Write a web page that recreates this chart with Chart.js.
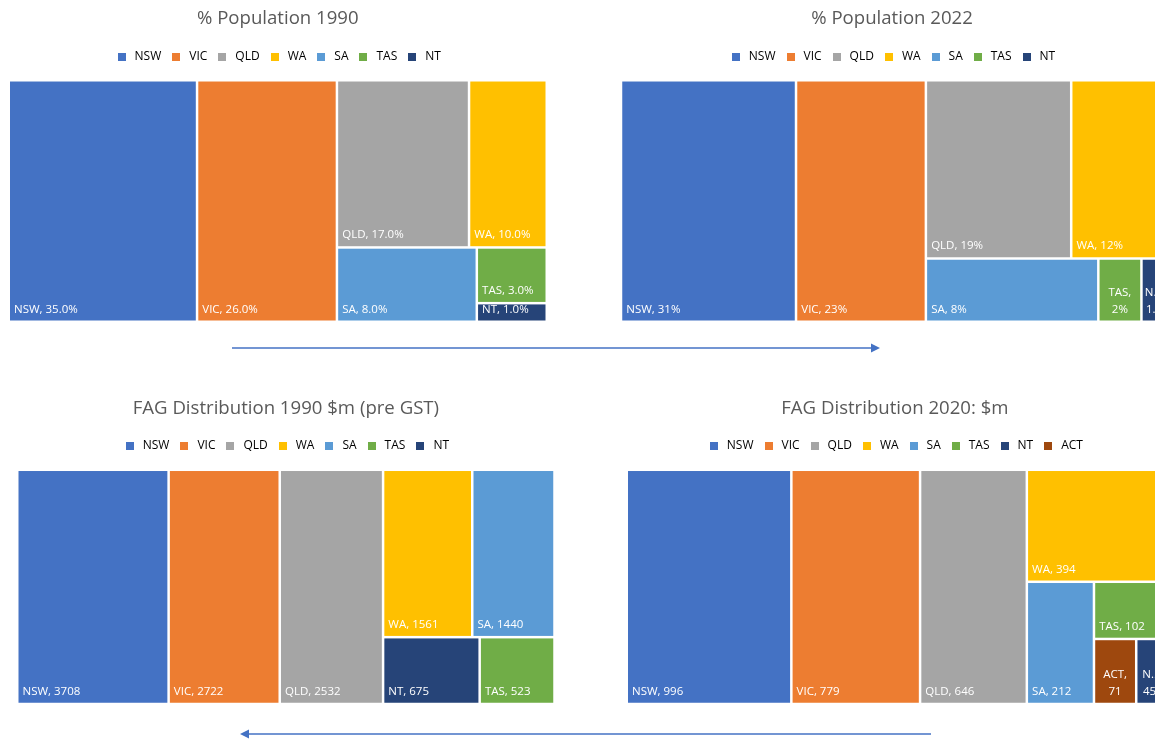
<!DOCTYPE html>
<html>
<head>
<meta charset="utf-8">
<script src="https://cdn.jsdelivr.net/npm/chart.js@4.4.1/dist/chart.umd.min.js"></script>
<style>
  html, body { margin: 0; padding: 0; background: #fff; overflow: hidden; }
  body { width: 1155px; height: 740px; position: relative; }
  .box { position: absolute; }
  #arrows { position: absolute; left: 0; top: 0; }
</style>
</head>
<body>
<div class="box" style="left:0;top:0"><canvas id="pop1990" width="556" height="323"></canvas></div>
<div class="box" style="left:600px;top:0"><canvas id="pop2022" width="580" height="323"></canvas></div>
<div class="box" style="left:0;top:389px"><canvas id="fag1990" width="572" height="317"></canvas></div>
<div class="box" style="left:600px;top:389px"><canvas id="fag2020" width="580" height="317"></canvas></div>
<svg id="arrows" width="1155" height="740">
  <line x1="232" y1="348" x2="872" y2="348" stroke="#4472C4" stroke-width="1.6"/>
  <polygon points="871,343.5 880,348 871,352.5" fill="#4472C4"/>
  <line x1="931" y1="734" x2="248" y2="734" stroke="#4472C4" stroke-width="1.6"/>
  <polygon points="249,729.5 240,734 249,738.5" fill="#4472C4"/>
</svg>
<script>
const states = ['NSW', 'VIC', 'QLD', 'WA', 'SA', 'TAS', 'NT'];
const statesWithAct = ['NSW', 'VIC', 'QLD', 'WA', 'SA', 'TAS', 'NT', 'ACT'];
const stateColors = ['#4472C4', '#ED7D31', '#A5A5A5', '#FFC000', '#5B9BD5', '#70AD47', '#264478', '#9E480E'];

// population share (%)
const pop1990 = [35.0, 26.0, 17.0, 10.0, 8.0, 3.0, 1.0];
const pop2022 = [31, 23, 19, 12, 8, 2, 1];
// financial assistance grants ($m)
const fag1990 = [3708, 2722, 2532, 1561, 1440, 523, 675];
const fag2020 = [996, 779, 646, 394, 212, 102, 45, 71];

Chart.defaults.font.family = '"Open Sans", sans-serif';
Chart.defaults.color = '#595959';

// strips are grown while the worst |1 - w/h| of the strip does not get worse
function stripScore(row, sum, side, horiz) {
  const t = sum / side;
  let worst = 0;
  row.forEach(it => {
    const len = it.area / t;
    const r = horiz ? len / t : t / len;
    worst = Math.max(worst, Math.abs(1 - r));
  });
  return worst;
}

function squarify(items, x, y, w, h) {
  const out = [];
  let rest = items.slice();
  while (rest.length) {
    const horiz = w < h;
    const side = horiz ? w : h;
    let row = [rest[0]];
    let sum = rest[0].area;
    let best = stripScore(row, sum, side, horiz);
    for (let k = 1; k < rest.length; k++) {
      const cand = row.concat(rest[k]);
      const s = sum + rest[k].area;
      const sc = stripScore(cand, s, side, horiz);
      if (sc > best) break;
      row = cand; sum = s; best = sc;
    }
    const t = sum / side;
    let off = 0;
    row.forEach(it => {
      const len = it.area / t;
      out.push(horiz ? { i: it.i, x: x + off, y: y, w: len, h: t }
                     : { i: it.i, x: x, y: y + off, w: t, h: len });
      off += len;
    });
    if (horiz) { y += t; h -= t; } else { x += t; w -= t; }
    rest = rest.slice(row.length);
  }
  return out;
}

function fitText(ctx, s, maxW) {
  if (ctx.measureText(s).width <= maxW) return s;
  let n = s.length - 1;
  while (n > 1 && ctx.measureText(s.slice(0, n) + '..').width > maxW) n--;
  return s.slice(0, n) + '..';
}

const treemapPlugin = {
  id: 'treemap',
  afterDatasetsDraw(chart, args, opts) {
    const { ctx, chartArea } = chart;
    const xs = chart.scales.x, ys = chart.scales.y;
    const labels = chart.data.labels;
    const ds = chart.data.datasets[0];
    const W = chartArea.width, H = chartArea.height;
    const total = ds.data.reduce((a, b) => a + b, 0);
    const items = ds.data.map((v, i) => ({ i, v, area: v / total * W * H }))
      .sort((a, b) => b.v - a.v);
    const cells = squarify(items, 0, 0, W, H);
    const g = opts.gap;
    ctx.save();
    cells.forEach(c => {
      const l = xs.getPixelForValue(c.x / W) + g;
      const r = xs.getPixelForValue((c.x + c.w) / W) - g;
      const t = ys.getPixelForValue(c.y / H) + g;
      const b = ys.getPixelForValue((c.y + c.h) / H) - g;
      ctx.fillStyle = ds.backgroundColor[c.i];
      ctx.fillRect(l, t, r - l, b - t);

      ctx.save();
      ctx.beginPath();
      ctx.rect(l, t, r - l, b - t);
      ctx.clip();
      ctx.fillStyle = '#fff';
      ctx.font = opts.font;
      ctx.textBaseline = 'alphabetic';
      const name = labels[c.i];
      const val = opts.format(ds.data[c.i]);
      const text = name + ', ' + val;
      if (ctx.measureText(text).width <= r - l - 8) {
        ctx.textAlign = 'left';
        ctx.fillText(text, l + 4, b - 8);
      } else {
        // narrow cell: name and value on two centred lines
        const lines = [name + ',', val].map(s => fitText(ctx, s, r - l - 8));
        ctx.textAlign = 'center';
        lines.forEach((s, k) => {
          ctx.fillText(s, (l + r) / 2, b - 8 - (lines.length - 1 - k) * 16.5);
        });
      }
      ctx.restore();
    });
    ctx.restore();
  }
};

function marker(color) {
  const c = document.createElement('canvas');
  c.width = 8; c.height = 8;
  const cx = c.getContext('2d');
  cx.fillStyle = color;
  cx.fillRect(0, 0, 8, 8);
  return c;
}

function makeTreemap(id, title, labels, values, format, pad) {
  const colors = stateColors.slice(0, labels.length);
  return new Chart(document.getElementById(id), {
    type: 'scatter',
    data: {
      labels: labels,
      datasets: [{ data: values, backgroundColor: colors, pointRadius: 0, showLine: false }]
    },
    options: {
      responsive: false,
      animation: false,
      events: [],
      devicePixelRatio: 1,
      layout: { padding: pad },
      scales: {
        x: { type: 'linear', min: 0, max: 1, display: false },
        y: { type: 'linear', min: 0, max: 1, reverse: true, display: false }
      },
      plugins: {
        title: {
          display: true,
          text: title,
          color: '#595959',
          font: { size: 18.6, weight: 'normal' },
          padding: { top: 8, bottom: 12.2 }
        },
        // empty spacer between legend and cells
        subtitle: {
          display: true,
          text: '',
          weight: 500,
          font: { size: 1, lineHeight: 1 },
          padding: { top: 0, bottom: 6.75 }
        },
        legend: {
          display: true,
          position: 'top',
          onClick: null,
          labels: {
            usePointStyle: true,
            pointStyleWidth: 14,
            padding: 8,
            color: '#595959',
            font: { size: 12 },
            generateLabels: chart => chart.data.labels.map((lab, i) => ({
              text: lab,
              fillStyle: colors[i],
              strokeStyle: colors[i],
              lineWidth: 0,
              pointStyle: marker(colors[i]),
              hidden: false,
              index: i
            }))
          }
        },
        tooltip: { enabled: false },
        treemap: { gap: 1.25, font: '11.5px "Open Sans"', format: format }
      }
    },
    plugins: [treemapPlugin]
  });
}

makeTreemap('pop1990', '% Population 1990', states, pop1990,
  v => v.toFixed(1) + '%', { left: 8.75, right: 9.25, top: 0, bottom: 1.25 });
makeTreemap('pop2022', '% Population 2022', states, pop2022,
  v => v + '%', { left: 21, right: 17, top: 0, bottom: 1.25 });
makeTreemap('fag1990', 'FAG Distribution 1990 $m (pre GST)', states, fag1990,
  v => String(v), { left: 17.25, right: 17.5, top: 0.5, bottom: 2 });
makeTreemap('fag2020', 'FAG Distribution 2020: $m', statesWithAct, fag2020,
  v => String(v), { left: 26.75, right: 17, top: 0.5, bottom: 2 });
</script>
</body>
</html>
